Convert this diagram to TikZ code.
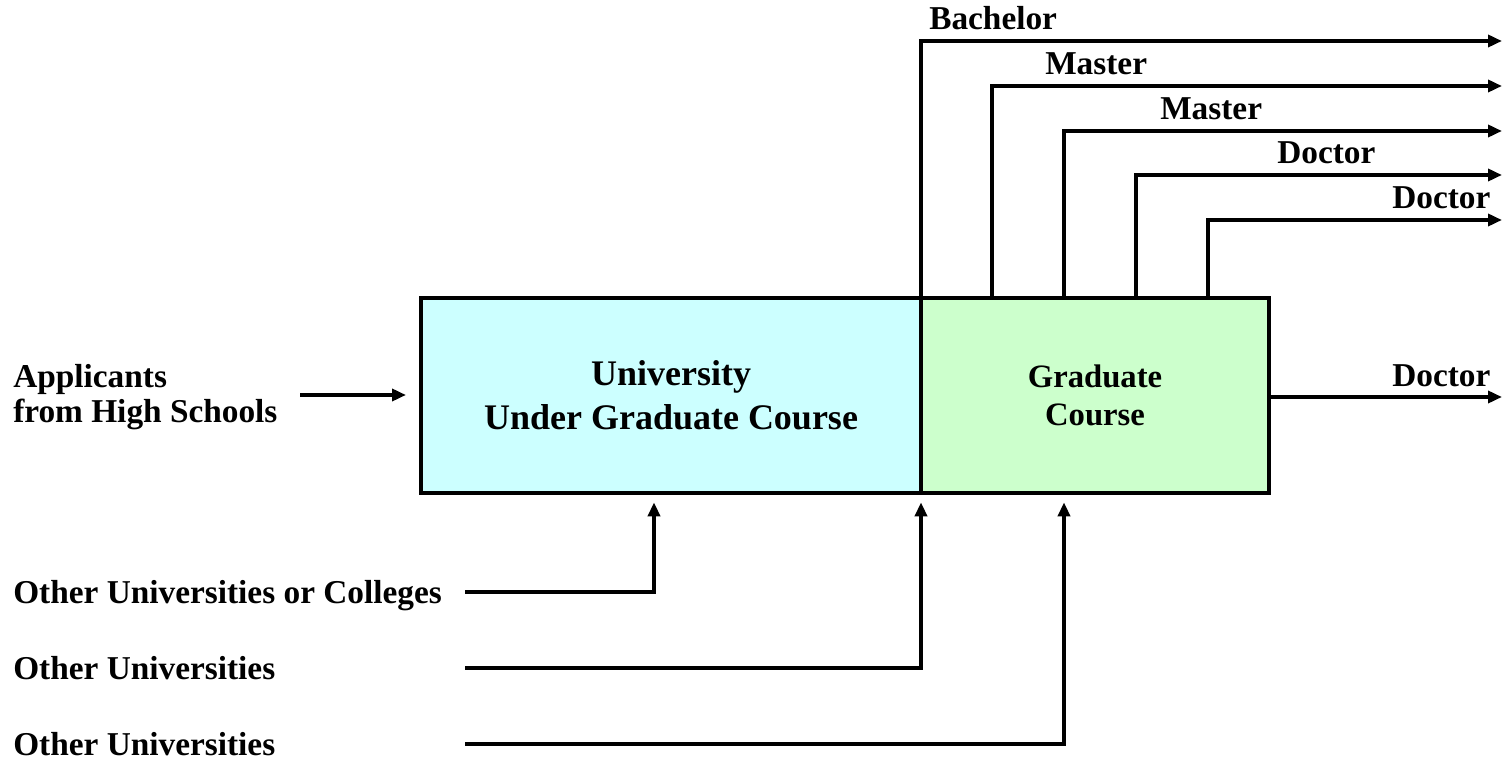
\documentclass[tikz,border=0pt]{standalone}
\usepackage{fontspec}
\setmainfont{Liberation Serif}
\usepackage{tikz}
\usetikzlibrary{arrows.meta}

\definecolor{undercol}{HTML}{CCFFFF}
\definecolor{gradcol}{HTML}{CCFFCC}

\begin{document}
\begin{tikzpicture}[x=0.75pt, y=-0.75pt, >={Triangle[length=10.5pt, width=9pt]},
	box/.style={draw, line width=3pt, minimum height=146.25pt, align=center, inner sep=0pt},
	lbl/.style={font=\bfseries\fontsize{25}{26}\selectfont, inner sep=0pt},
	flow/.style={->, line width=2.6pt}]

							\useasboundingbox (0,0) rectangle (1503,762);

							% the two courses
							\node[box, fill=undercol, minimum width=375pt, font=\bfseries\fontsize{27}{33}\selectfont] (univ) at (671,395.5) {University\\Under Graduate Course};
							\node[box, fill=gradcol, minimum width=261pt, font=\bfseries\fontsize{24.5}{28.5}\selectfont] (grad) at (1095,395.5) {Graduate\\Course};

							% outputs on top
							\coordinate (t1) at (921,298);
							\coordinate (t2) at (992,298);
							\coordinate (t3) at (1064,298);
							\coordinate (t4) at (1136,298);
							\coordinate (t5) at (1208,298);
							\coordinate (o1) at (1502,41);
							\coordinate (o2) at (1502,86);
							\coordinate (o3) at (1502,131);
							\coordinate (o4) at (1502,175);
							\coordinate (o5) at (1502,220);
							\coordinate (o6) at (1502,397);

							\node[lbl, anchor=base west] (bach) at (929,30) {Bachelor};
							\node[lbl, anchor=base west] (mast1) at (1045,75) {Master};
							\node[lbl, anchor=base west] (mast2) at (1160,120) {Master};
							\node[lbl, anchor=base west] (doct1) at (1277,164) {Doctor};
							\node[lbl, anchor=base west] (doct2) at (1392,209) {Doctor};
							\node[lbl, anchor=base west] (doct3) at (1392,387) {Doctor};

							\draw[flow] (t1) |- (o1);
							\draw[flow] (t2) |- (o2);
							\draw[flow] (t3) |- (o3);
							\draw[flow] (t4) |- (o4);
							\draw[flow] (t5) |- (o5);
							\draw[flow] (grad.east |- o6) -- (o6);

							% inputs
							\node[lbl, anchor=west, align=left] (appl) at (13,397) {Applicants\\from High Schools};
							\node[lbl, anchor=base west] (other1) at (13,603) {Other Universities or Colleges};
							\node[lbl, anchor=base west] (other2) at (13,679) {Other Universities};
							\node[lbl, anchor=base west] (other3) at (13,755) {Other Universities};

							\coordinate (a0) at (300,395);
							\coordinate (s1) at (465,592);
							\coordinate (s2) at (465,668);
							\coordinate (s3) at (465,744);
							\coordinate (e1) at (654,493);
							\coordinate (e2) at (921,493);
							\coordinate (e3) at (1064,493);

							\draw[flow, shorten >=9.75pt] (a0) -- (a0 -| univ.west);
							\draw[flow, shorten >=7pt] (s1) -| (e1);
							\draw[flow, shorten >=7pt] (s2) -| (e2);
							\draw[flow, shorten >=7pt] (s3) -| (e3);

\end{tikzpicture}
\end{document}
